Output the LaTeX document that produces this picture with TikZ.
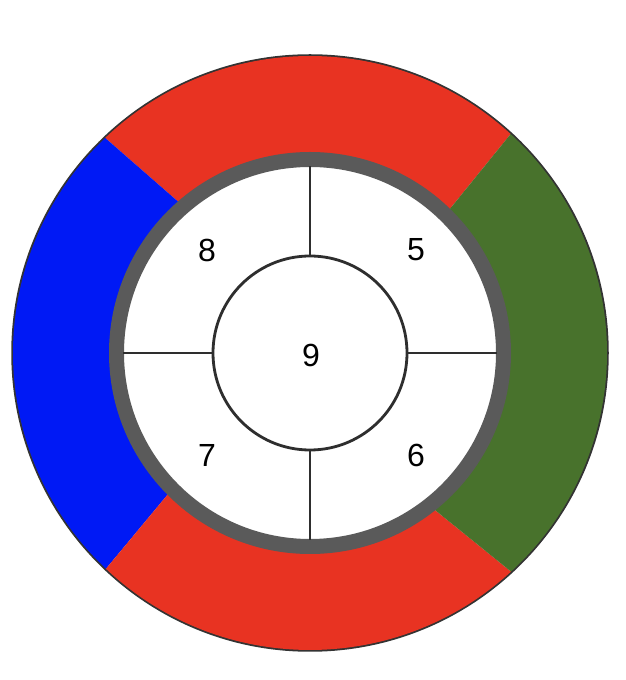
\documentclass[tikz,border=0pt]{standalone}
\usepackage{fontspec}
\setmainfont{Liberation Sans}
\definecolor{ringred}{HTML}{E83322}
\definecolor{ringblue}{HTML}{0019F5}
\definecolor{ringgreen}{HTML}{48722C}
\definecolor{ringgray}{HTML}{5A5A5A}
\definecolor{linegray}{HTML}{2E2E2E}
\begin{document}
\begin{tikzpicture}[x=1pt,y=1pt,
  seglabel/.style={font=\fontsize{32}{32}\selectfont, inner sep=0pt},
  crossline/.style={draw=linegray, line width=2.8pt}]
\useasboundingbox (0,0) rectangle (626,680);
\begin{scope}[shift={(310,327)}]
  % thin outer outline
  \draw[black!80, line width=2.5pt] (0,0) circle[radius=297.5];
  % coloured segments
  \fill[ringred] (47.5:297) arc[start angle=47.5, end angle=133.6, radius=297]
     -- (131:199) arc[start angle=131, end angle=45.8, radius=199] -- cycle;
  \fill[ringblue] (133.6:297) arc[start angle=133.6, end angle=226.6, radius=297]
     -- (224.8:199) arc[start angle=224.8, end angle=131, radius=199] -- cycle;
  \fill[ringred] (226.6:297) arc[start angle=226.6, end angle=312.6, radius=297]
     -- (308.4:199) arc[start angle=308.4, end angle=224.8, radius=199] -- cycle;
  \fill[ringgreen] (312.6:297) arc[start angle=312.6, end angle=407.5, radius=297]
     -- (405.8:199) arc[start angle=405.8, end angle=308.4, radius=199] -- cycle;
  % gray ring and white interior
  \fill[white] (0,0) circle[radius=194];
  \draw[ringgray, line width=15pt] (0,0) circle[radius=193.5];
  % inner circle
  \node[circle, draw=linegray, line width=2.8pt, fill=white, minimum size=194pt, inner sep=0pt] (c9) at (0,0) {};
  \node[seglabel] (l9) at (1,-2) {9};
  \coordinate (rt) at (0,187);
  \coordinate (rb) at (0,-187);
  \coordinate (rl) at (-187,0);
  \coordinate (rr) at (187,0);
  \draw[crossline] (c9.north) -- (rt);
  \draw[crossline] (c9.south) -- (rb);
  \draw[crossline] (c9.west) -- (rl);
  \draw[crossline] (c9.east) -- (rr);
  \node[seglabel] (l8) at (-103,103) {8};
  \node[seglabel] (l5) at (106,103) {5};
  \node[seglabel] (l7) at (-103,-102) {7};
  \node[seglabel] (l6) at (106,-102) {6};
\end{scope}
\end{tikzpicture}
\end{document}
